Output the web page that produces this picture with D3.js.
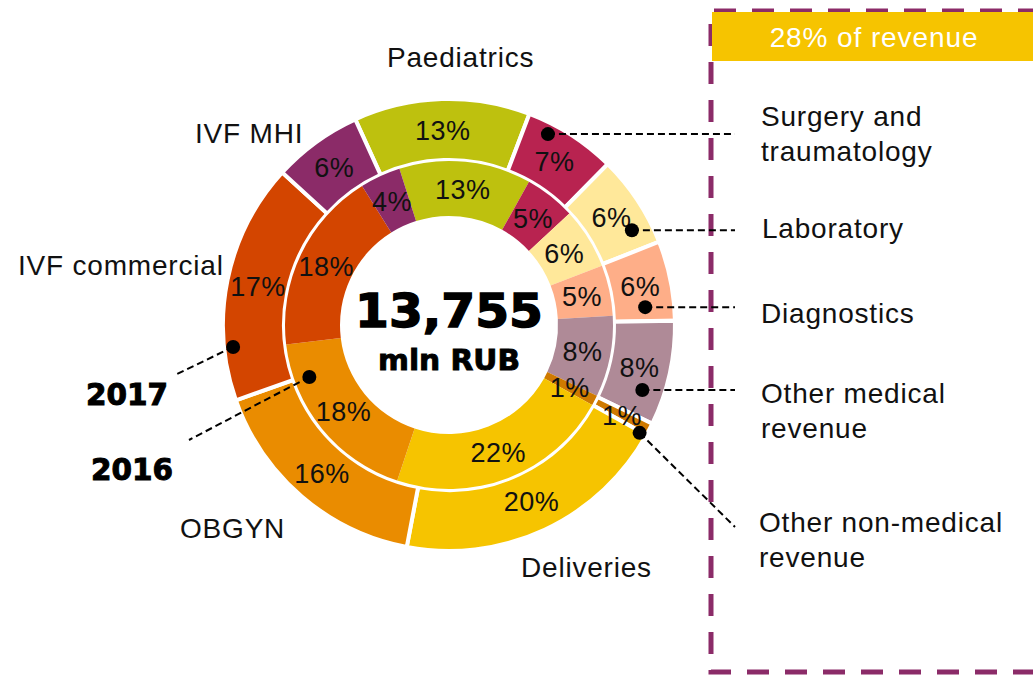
<!DOCTYPE html>
<html>
<head>
<meta charset="utf-8">
<script src="https://cdn.jsdelivr.net/npm/d3@7/dist/d3.min.js"></script>
<style>
    body { margin: 0; background: #fff; }
    svg { display: block; font-family: "Liberation Sans", Arial, Helvetica, sans-serif; }
</style>
</head>
<body>
<svg id="chart" width="1033" height="675"></svg>
<script>
// segments, clockwise from the top
const segments = ['Paediatrics', 'Surgery', 'Laboratory', 'Diagnostics', 'Other medical',
    'Other non-medical', 'Deliveries', 'OBGYN', 'IVF commercial', 'IVF MHI'];
const segmentColors = ['#BEC10E', '#B82350', '#FFE89A', '#FEAE88', '#AF8A97',
    '#CF7A00', '#F6C400', '#EA8C00', '#D34500', '#8B2B68'];

// 2017 = outer ring, 2016 = inner ring (shares in %)
const share2017 = [12.6, 6.6, 6.6, 5.7, 7.5, 0.9, 19.9, 16.6, 17.2, 6.4];
const labels2017 = ['13%', '7%', '6%', '6%', '8%', '1%', '20%', '16%', '17%', '6%'];
const share2016 = [13, 5, 6, 5, 8, 1, 22, 18, 18, 4];
const labels2016 = ['13%', '5%', '6%', '5%', '8%', '1%', '22%', '18%', '18%', '4%'];

const totalRevenue = '13,755';
const totalUnit = 'mln RUB';

// category names around the chart
const outsideLabels = [
    { lines: ['Paediatrics'], x: 387, y: 67 },
    { lines: ['IVF MHI'], x: 195, y: 143 },
    { lines: ['IVF commercial'], x: 18, y: 275 },
    { lines: ['OBGYN'], x: 180, y: 538 },
    { lines: ['Deliveries'], x: 521, y: 577 },
    { lines: ['Surgery and', 'traumatology'], x: 761, y: 126 },
    { lines: ['Laboratory'], x: 762, y: 238 },
    { lines: ['Diagnostics'], x: 761, y: 323 },
    { lines: ['Other medical', 'revenue'], x: 761, y: 403 },
    { lines: ['Other non-medical', 'revenue'], x: 759, y: 532 }
];

// leader lines: dot given in polar terms (degrees clockwise from top, radius)
const callouts = [
    { angle: 27.4, r: 215, toX: 735, flat: true },
    { angle: 62.6, r: 206, toX: 735, flat: true },
    { angle: 84.8, r: 197, toX: 735, flat: true },
    { angle: 108.6, r: 204, toX: 735, flat: true },
    { angle: 119.5, r: 219, toX: 735, toY: 527 },
    { angle: 264.2, r: 217, toX: 175, toY: 375 },
    { angle: 249.6, r: 149, toX: 189, toY: 440 }
];
const yearLabels = [
    { text: '2017', x: 86, y: 405 },
    { text: '2016', x: 91, y: 480 }
];

const width = 1033, height = 675;
const cx = 449, cy = 325;
const deg = Math.PI / 180;

const svg = d3.select('#chart');

// highlighted box on the right
svg.append('path')
    .attr('d', `M1040,11H711V672H1040`)
    .attr('fill', 'none')
    .attr('stroke', '#8B2B68')
    .attr('stroke-width', 5)
    .attr('stroke-dasharray', '22 16');

svg.append('rect')
    .attr('x', 712).attr('y', 12)
    .attr('width', width - 712).attr('height', 49)
    .attr('fill', '#F6C400');

svg.append('text')
    .attr('x', 874).attr('y', 47)
    .attr('text-anchor', 'middle')
    .attr('font-size', 28)
    .attr('letter-spacing', 0.9)
    .attr('fill', '#fff')
    .text('28% of revenue');

const g = svg.append('g').attr('transform', `translate(${cx},${cy})`);

function ring(values, labels, startDeg, r0, r1, stroke, labelR) {
    const pie = d3.pie()
        .sort(null)
        .startAngle(startDeg * deg)
        .endAngle((startDeg + 360) * deg);
    const arcs = pie(values).map((d, i) => Object.assign(d, { i: i }));

    const arc = d3.arc().innerRadius(r0).outerRadius(r1);
    const grp = g.append('g');

    grp.selectAll('path')
        .data(arcs)
        .enter()
        .append('path')
        .attr('d', arc)
        .attr('fill', d => segmentColors[d.i])
        .attr('stroke', stroke ? '#fff' : 'none')
        .attr('stroke-width', stroke ? 4 : 0);

    const labelArc = d3.arc().innerRadius(labelR).outerRadius(labelR);
    grp.selectAll('text')
        .data(arcs)
        .enter()
        .append('text')
        .attr('transform', d => `translate(${labelArc.centroid(d)})`)
        .attr('text-anchor', 'middle')
        .attr('dy', '0.36em')
        .attr('font-size', 27)
        .attr('letter-spacing', 0.5)
        .attr('fill', '#111')
        .text(d => labels[d.i]);
}

ring(share2017, labels2017, -24.5, 165, 226, true, 195);
ring(share2016, labels2016, -17.6, 109, 164, false, 136);

// centre total
g.append('text')
    .attr('y', 2)
    .attr('text-anchor', 'middle')
    .attr('font-family', '"DejaVu Sans", sans-serif')
    .attr('font-weight', 'bold')
    .attr('font-size', 47)
    .attr('textLength', 188)
    .attr('lengthAdjust', 'spacingAndGlyphs')
    .attr('stroke', '#000').attr('stroke-width', 1.4)
    .text(totalRevenue);

g.append('text')
    .attr('y', 45)
    .attr('text-anchor', 'middle')
    .attr('font-family', '"DejaVu Sans", sans-serif')
    .attr('font-weight', 'bold')
    .attr('font-size', 29)
    .attr('textLength', 142)
    .attr('lengthAdjust', 'spacingAndGlyphs')
    .attr('stroke', '#000').attr('stroke-width', 0.9)
    .text(totalUnit);

// leader lines and dots
const polar = (a, r) => [cx + r * Math.sin(a * deg), cy - r * Math.cos(a * deg)];

callouts.forEach(c => {
    const [x, y] = polar(c.angle, c.r);
    svg.append('line')
        .attr('x1', x).attr('y1', y)
        .attr('x2', c.toX).attr('y2', c.flat ? y : c.toY)
        .attr('stroke', '#000')
        .attr('stroke-width', 2)
        .attr('stroke-dasharray', '7 4');
    svg.append('circle')
        .attr('cx', x).attr('cy', y)
        .attr('r', 7)
        .attr('fill', '#000');
});

// category labels
outsideLabels.forEach(l => {
    const t = svg.append('text')
        .attr('x', l.x).attr('y', l.y)
        .attr('font-size', 28)
        .attr('letter-spacing', 0.8)
        .attr('fill', '#111');
    l.lines.forEach((line, i) => {
        t.append('tspan')
            .attr('x', l.x)
            .attr('dy', i === 0 ? 0 : 35)
            .text(line);
    });
});

yearLabels.forEach(l => {
    svg.append('text')
        .attr('x', l.x).attr('y', l.y)
        .attr('font-family', '"DejaVu Sans", sans-serif')
        .attr('font-weight', 'bold')
        .attr('font-size', 30)
        .attr('textLength', 82)
        .attr('lengthAdjust', 'spacingAndGlyphs')
        .attr('stroke', '#000').attr('stroke-width', 1)
        .text(l.text);
});
</script>
</body>
</html>
